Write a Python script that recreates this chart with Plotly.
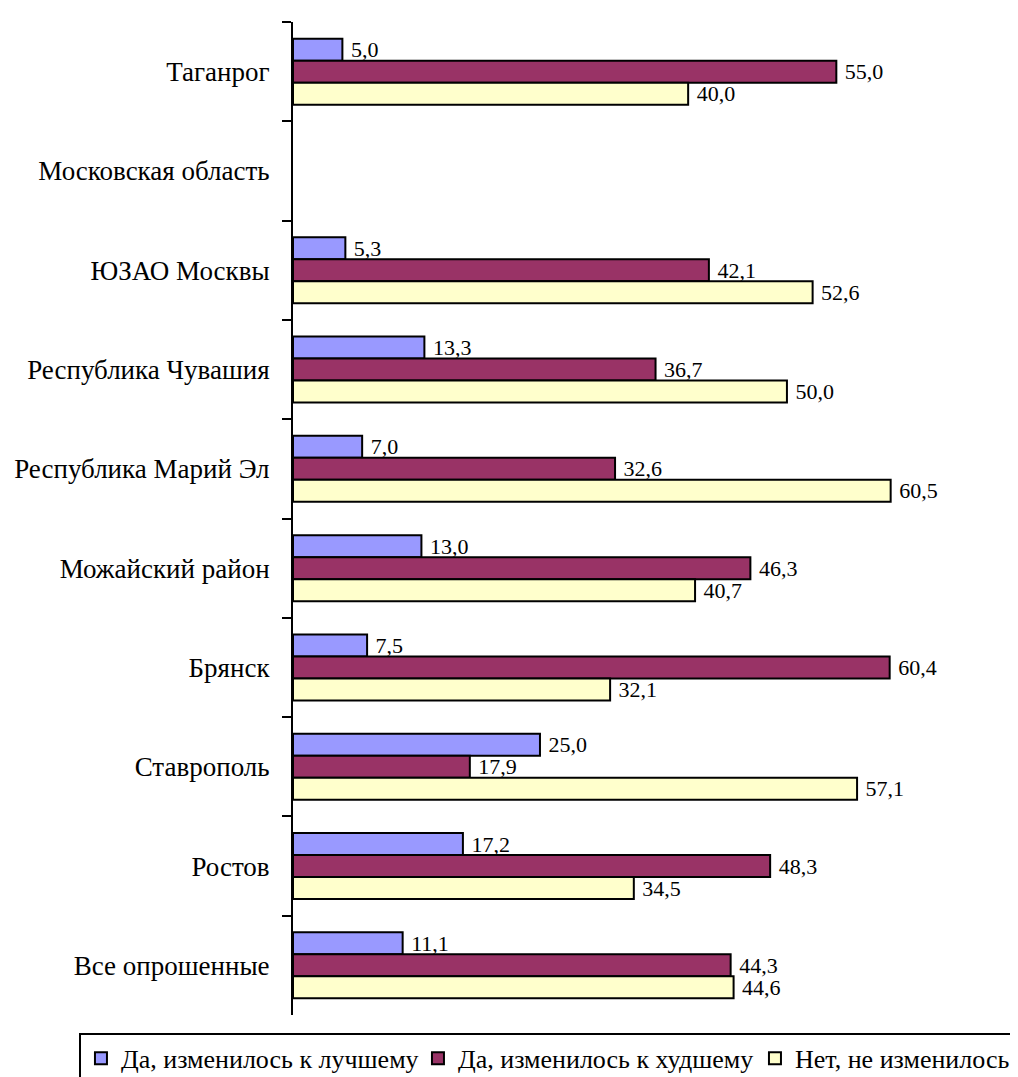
import plotly.graph_objects as go

# Categories listed top to bottom (y axis is reversed)
regions = [
    "Таганрог",
    "Московская область",
    "ЮЗАО Москвы",
    "Республика Чувашия",
    "Республика Марий Эл",
    "Можайский район",
    "Брянск",
    "Ставрополь",
    "Ростов",
    "Все опрошенные",
]

better = [5.0, None, 5.3, 13.3, 7.0, 13.0, 7.5, 25.0, 17.2, 11.1]
worse = [55.0, None, 42.1, 36.7, 32.6, 46.3, 60.4, 17.9, 48.3, 44.3]
same = [40.0, None, 52.6, 50.0, 60.5, 40.7, 32.1, 57.1, 34.5, 44.6]

series = [
    ("Да, изменилось к лучшему", better, "#9999FF"),
    ("Да, изменилось к худшему", worse, "#993366"),
    ("Нет, не изменилось", same, "#FFFFCC"),
]

FONT = "'Times New Roman', 'Liberation Serif', 'DejaVu Serif', serif"


def fmt(v):
    # Russian decimal comma, small gap from the bar end
    return "" if v is None else " " + f"{v:.1f}".replace(".", ",")


fig = go.Figure()

for name, values, color in series:
    fig.add_trace(go.Bar(
        y=regions,
        x=values,
        name=name,
        orientation="h",
        marker=dict(color=color, line=dict(color="black", width=2)),
        text=[fmt(v) for v in values],
        textposition="outside",
        constraintext="none",
        cliponaxis=False,
        textfont=dict(family=FONT, size=22, color="black"),
    ))

fig.update_layout(
    width=1018,
    height=1077,
    margin=dict(l=285, r=0, t=14, b=70, autoexpand=False),
    barmode="group",
    bargap=0.335,
    bargroupgap=0,
    plot_bgcolor="white",
    paper_bgcolor="white",
    font=dict(family=FONT, size=27, color="black"),
    showlegend=True,
    legend=dict(
        orientation="h",
        x=-0.292,
        xanchor="left",
        y=-0.018,
        yanchor="top",
        bordercolor="black",
        borderwidth=2,
        font=dict(family=FONT, size=26, color="black"),
        itemwidth=30,
        entrywidth=292,
        entrywidthmode="pixels",
        tracegroupgap=0,
    ),
    xaxis=dict(
        range=[0, 74.2],
        visible=False,
        showgrid=False,
        zeroline=False,
    ),
    yaxis=dict(
        type="category",
        categoryorder="array",
        categoryarray=regions,
        autorange="reversed",
        showline=True,
        linecolor="black",
        linewidth=2,
        ticks="outside",
        tickson="boundaries",
        ticklen=9,
        tickwidth=2,
        tickcolor="black",
        ticklabelstandoff=16,
        showgrid=False,
        zeroline=False,
        tickfont=dict(family=FONT, size=27, color="black"),
    ),
)

fig.write_html("out.html")
